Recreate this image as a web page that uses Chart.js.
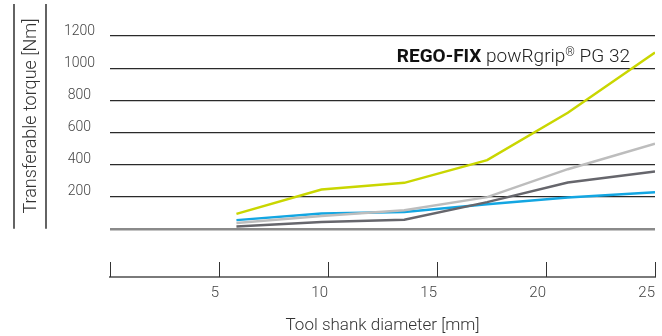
<!DOCTYPE html>
<html>
<head>
<meta charset="utf-8">
<script src="https://cdn.jsdelivr.net/npm/chart.js@4/dist/chart.umd.min.js"></script>
<style>
  html, body { margin: 0; padding: 0; background: #fff; }
  #wrap { width: 662px; height: 336px; }
</style>
</head>
<body>
<div id="wrap"><canvas id="chart" width="662" height="336"></canvas></div>
<script>
// ---- data ----
const shankDiameters = [5.8, 9.7, 13.5, 17.3, 21.0, 25];
const torqueYellow = [93, 244, 286, 427, 722, 1097];
const torqueLightGray = [36, 80, 116, 197, 371, 530];
const torqueDarkGray = [14, 42, 57, 166, 288, 357];
const torqueBlue = [54, 95, 105, 153, 195, 228];
const yTickValues = [0, 200, 400, 600, 800, 1000, 1200];
const xTickValues = [0, 5, 10, 15, 20, 25];

const FONT = "Roboto, 'Open Sans', sans-serif";

function toPoints(values) {
  return values.map((v, i) => ({ x: shankDiameters[i], y: v }));
}

function serie(label, values, color) {
  return {
    label: label,
    data: toPoints(values),
    borderColor: color,
    borderWidth: 2.5,
    pointRadius: 0,
    tension: 0,
    fill: false,
  };
}

// extra drawings: frame lines, y title, upward ticks, product label
const decoracoes = {
  id: 'decoracoes',
  afterDraw(chart) {
    const ctx = chart.ctx;
    const area = chart.chartArea;
    const x = chart.scales.x;
    const y = chart.scales.y;
    const zeroY = y.getPixelForValue(0);
    ctx.save();

    // two vertical lines around the y title
    ctx.strokeStyle = '#222';
    ctx.lineWidth = 1.4;
    [14, 46].forEach((lx) => {
      ctx.beginPath();
      ctx.moveTo(lx, 4);
      ctx.lineTo(lx, zeroY);
      ctx.stroke();
    });

    // y title
    ctx.fillStyle = '#333';
    ctx.font = '300 18px ' + FONT;
    ctx.textAlign = 'center';
    ctx.textBaseline = 'middle';
    ctx.translate(31, 116);
    ctx.rotate(-Math.PI / 2);
    ctx.fillText('Transferable torque [Nm]', 0, 0);
    ctx.setTransform(1, 0, 0, 1, 0, 0);

    // x ticks pointing upward
    ctx.strokeStyle = '#333';
    ctx.lineWidth = 1;
    xTickValues.forEach((v) => {
      const px = Math.round(x.getPixelForValue(v)) + 0.5;
      ctx.beginPath();
      ctx.moveTo(px, area.bottom);
      ctx.lineTo(px, area.bottom - 15);
      ctx.stroke();
    });

    // product label, right aligned, with superscript ®
    const negrito = '700 19px ' + FONT;
    const leve = '300 19px ' + FONT;
    const sup = '300 12px ' + FONT;
    const partes = [
      { t: 'REGO-FIX', f: negrito, c: '#111', dy: 0 },
      { t: ' powRgrip', f: leve, c: '#222', dy: 0 },
      { t: '\u00ae', f: sup, c: '#222', dy: -6 },
      { t: ' PG 32', f: leve, c: '#222', dy: 0 },
    ];
    ctx.textBaseline = 'alphabetic';
    ctx.textAlign = 'left';
    let total = 0;
    partes.forEach((p) => {
      ctx.font = p.f;
      p.w = ctx.measureText(p.t).width;
      total += p.w;
    });
    let cx = 630 - total;
    partes.forEach((p) => {
      ctx.font = p.f;
      ctx.fillStyle = p.c;
      ctx.fillText(p.t, cx, 62 + p.dy);
      cx += p.w;
    });

    ctx.restore();
  },
};

new Chart(document.getElementById('chart').getContext('2d'), {
  type: 'line',
  data: {
    datasets: [
      serie('Yellow', torqueYellow, '#c9d600'),
      serie('Light gray', torqueLightGray, '#bdbdbd'),
      serie('Dark gray', torqueDarkGray, '#66666c'),
      serie('Blue', torqueBlue, '#13a6e2'),
    ],
  },
  options: {
    responsive: false,
    animation: false,
    devicePixelRatio: 1,
    layout: { padding: { top: 36, right: 6, left: 0, bottom: 0 } },
    plugins: {
      legend: { display: false },
      tooltip: { enabled: false },
    },
    scales: {
      x: {
        type: 'linear',
        min: 0,
        max: 25,
        afterBuildTicks: (scale) => {
          scale.ticks = xTickValues.map((v) => ({ value: v }));
        },
        afterFit: (scale) => {
          scale.height = 59;
        },
        grid: { display: false, drawTicks: false },
        border: { display: true, color: '#7a7a7a', width: 2 },
        ticks: {
          align: 'end',
          padding: 7,
          color: '#444',
          font: { family: FONT, size: 15, weight: '300' },
          callback: (v) => (v === 0 ? '' : String(v)),
        },
        title: {
          display: true,
          text: 'Tool shank diameter [mm]',
          color: '#333',
          font: { family: FONT, size: 17, weight: '300' },
          padding: { top: 13, bottom: 0 },
        },
      },
      y: {
        type: 'linear',
        min: -300,
        max: 1200,
        afterBuildTicks: (scale) => {
          scale.ticks = yTickValues.map((v) => ({ value: v }));
        },
        afterFit: (scale) => {
          scale.width = 110;
        },
        border: { display: false },
        grid: {
          drawTicks: false,
          color: (c) => (c.tick && c.tick.value === 0 ? '#8a8a8a' : '#2a2a2a'),
          lineWidth: (c) => (c.tick && c.tick.value === 0 ? 2.5 : 1.2),
        },
        ticks: {
          crossAlign: 'center',
          padding: 15,
          labelOffset: -5,
          color: '#444',
          font: { family: FONT, size: 14, weight: '300' },
          callback: (v) => (v === 0 ? '' : String(v)),
        },
      },
    },
  },
  plugins: [decoracoes],
});
</script>
</body>
</html>
